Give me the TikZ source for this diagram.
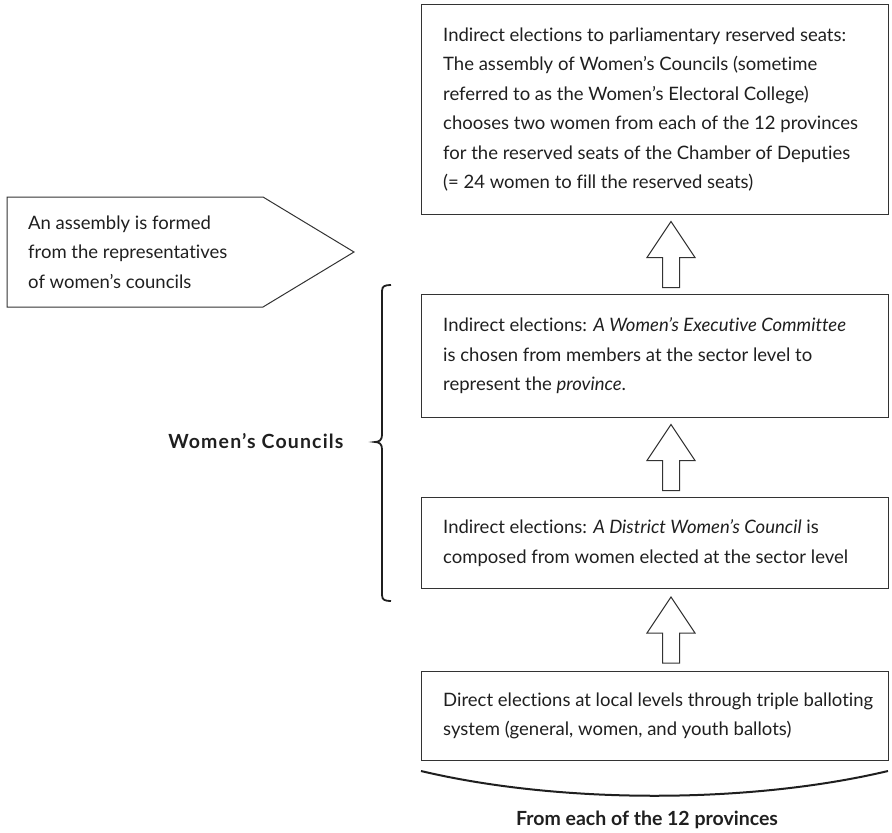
\documentclass[tikz,border=0pt]{standalone}
\usepackage{fontspec}
\setmainfont{Lato}[Ligatures=NoCommon]
\usetikzlibrary{calc}
\definecolor{linecolor}{gray}{0.2}
\definecolor{inkcolor}{gray}{0.12}
\tikzset{
	stagebox/.style={draw=linecolor,line width=1pt,rectangle,anchor=north west,minimum width=467pt,inner sep=0pt},
	stagetext/.style={anchor=west,align=left,inner sep=0pt,font=\fontsize{18.5}{29.4}\selectfont,text=inkcolor},
	blockarrow/.style={draw=linecolor,line width=1pt,fill=white,line join=miter},
	boldlabel/.style={font=\fontsize{19.5}{22}\selectfont\bfseries,text=inkcolor}
}
\newcommand{\hollowup}[1]{\draw[blockarrow] (#1) ++(-8.5,33) -- ++(0,-30) -- ++(-15.5,0) -- ++(24,-36) -- ++(24,36) -- ++(-15.5,0) -- ++(0,30) -- cycle;}

\begin{document}
\begin{tikzpicture}[x=1pt,y=-1pt]
			\useasboundingbox (0,0) rectangle (892,833);
			%四个方框
			\node[stagebox,minimum height=210pt] (seats) at (421,4) {};
			\node[stagebox,minimum height=123pt] (province) at (421,294) {};
			\node[stagebox,minimum height=91pt] (district) at (421,497) {};
			\node[stagebox,minimum height=89pt] (local) at (421,671) {};
			%方框里的文字
			\node[stagetext] (seatstext) at ($(seats.west)+(22,0)$) {Indirect elections to parliamentary reserved seats:\\The assembly of Women’s Councils (sometime\\referred to as the Women’s Electoral College)\\chooses two women from each of the 12 provinces\\for the reserved seats of the Chamber of Deputies\\(= 24 women to fill the reserved seats)};
			\node[stagetext] (provincetext) at ($(province.west)+(22,0)$) {Indirect elections: \textit{A Women’s Executive Committee}\\is chosen from members at the sector level to\\represent the \textit{province}.};
			\node[stagetext] (districttext) at ($(district.west)+(22,0)$) {Indirect elections: \textit{A District Women’s Council} is\\composed from women elected at the sector level};
			\node[stagetext] (localtext) at ($(local.west)+(22,0)$) {Direct elections at local levels through triple balloting\\system (general, women, and youth ballots)};
			%空心箭头
			\coordinate (up1) at ($(local.north)!0.5!(district.south)+(16,0)$);
			\coordinate (up2) at ($(district.north)!0.5!(province.south)+(16,0)$);
			\coordinate (up3) at ($(province.north)!0.5!(seats.south)+(16,0)$);
			\hollowup{up1}
			\hollowup{up2}
			\hollowup{up3}
			%左边的五边形
			\draw[draw=linecolor,line width=1pt] (7,197) -- (263,197) -- (354,252) -- (263,307) -- (7,307) -- cycle;
			\node[stagetext] (assembly) at (28,252) {An assembly is formed\\from the representatives\\of women’s councils};
			%括号
			\draw[draw=inkcolor,line width=1.8pt] (391,285) .. controls (385,285) and (382,286) .. (382,291) -- (382,435) .. controls (382,440) and (379,442) .. (375,442) .. controls (379,442) and (382,444) .. (382,449) -- (382,595) .. controls (382,600) and (385,601) .. (391,601);
			\node[boldlabel,anchor=east] (councils) at (347,441) {\addfontfeature{LetterSpace=6}Women’s Councils};
			%底部曲线
			\draw[draw=inkcolor,line width=2pt] (421,771) .. controls (560,804) and (749,804) .. (888,771);
			\node[boldlabel] (provinces) at (647,820) {From each of the 12 provinces};
		\end{tikzpicture}
\end{document}
